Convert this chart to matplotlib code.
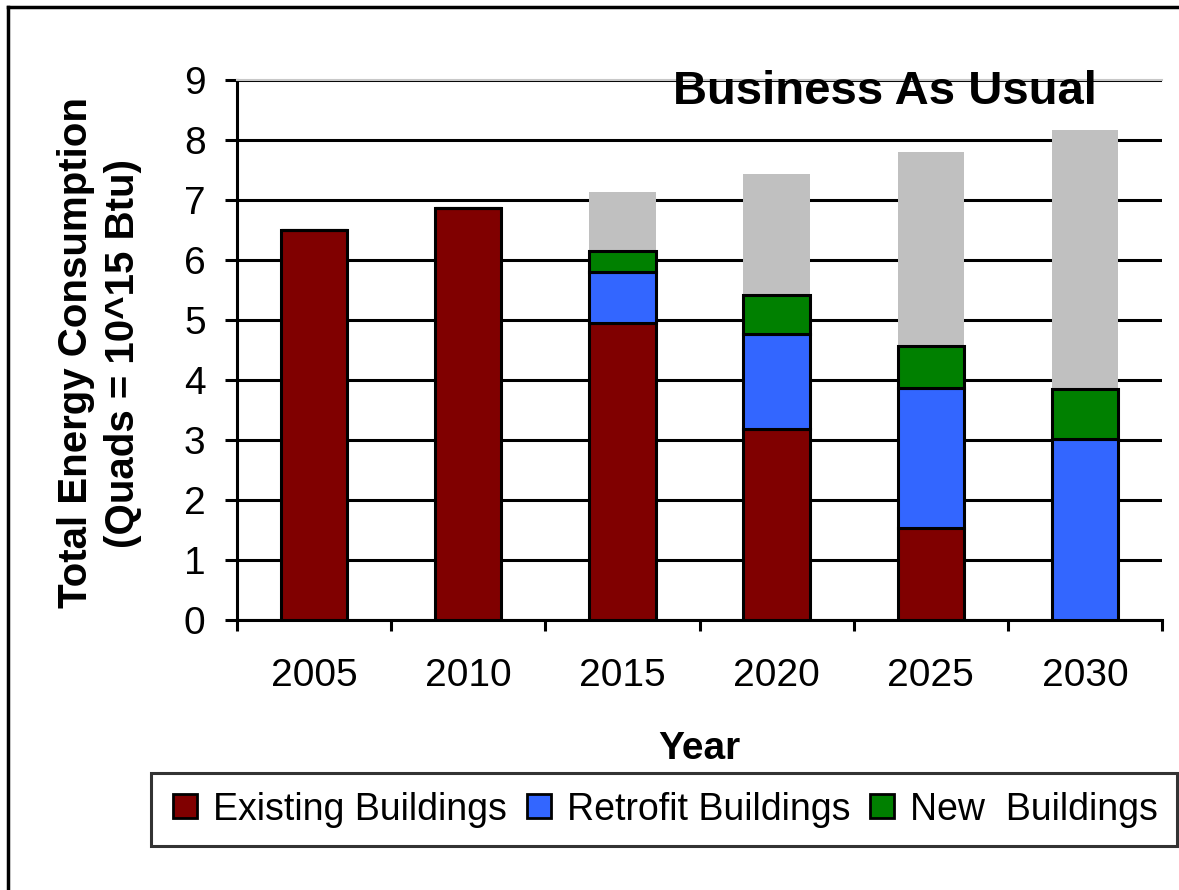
import matplotlib
matplotlib.use("Agg")
import matplotlib.pyplot as plt
from matplotlib.lines import Line2D
import numpy as np

plt.rcParams['font.family'] = ['Liberation Sans', 'DejaVu Sans']

years = ['2005', '2010', '2015', '2020', '2025', '2030']
existing = [6.50, 6.87, 4.95, 3.18, 1.53, 0.00]
retrofit = [0.00, 0.00, 0.85, 1.59, 2.34, 3.02]
new_bldg = [0.00, 0.00, 0.35, 0.65, 0.70, 0.83]
bau_total = [6.50, 6.87, 7.13, 7.43, 7.80, 8.17]

RED = '#800000'
BLUE = '#3366ff'
GREEN = '#008000'
GREY = '#c0c0c0'

fig = plt.figure(figsize=(11.79, 8.9), dpi=100)
ax = fig.add_axes([237 / 1179, 1 - 620 / 890, (1162 - 237) / 1179, 540 / 890])

x = np.arange(len(years))
w = 0.43
edge = dict(edgecolor='black', linewidth=2.2, zorder=3)

# business-as-usual total sits behind the stacked breakdown
ax.bar(x, bau_total, w, color=GREY, linewidth=0, zorder=2)
ax.bar(x, existing, w, color=RED, **edge)
b1 = np.array(existing)
ax.bar(x, retrofit, w, bottom=b1, color=BLUE, **edge)
b2 = b1 + np.array(retrofit)
ax.bar(x, new_bldg, w, bottom=b2, color=GREEN, **edge)

ax.set_xlim(-0.5, 5.5)
ax.set_ylim(0, 9)
ax.set_yticks(range(10))
ax.yaxis.grid(True, color='black', linewidth=2.2)
ax.set_axisbelow(True)

ax.spines['right'].set_visible(False)
ax.spines['top'].set_color('#c8c8c8')
ax.spines['top'].set_linewidth(1.5)
ax.spines['left'].set_linewidth(2.2)
ax.spines['bottom'].set_linewidth(2.2)

ax.set_xticks(x)
ax.set_xticklabels(years)
ax.set_xticks(np.arange(-0.5, 6, 1), minor=True)
ax.tick_params(axis='x', which='major', length=0, pad=27, labelsize=28)
ax.tick_params(axis='x', which='minor', length=8, width=2.2, direction='out')
ax.tick_params(axis='y', length=8.6, width=2.2, pad=14, labelsize=28)

fig.text(100 / 1179, 1 - 353 / 890,
         'Total Energy Consumption\n(Quads = 10^15 Btu)',
         rotation=90, ha='center', va='center', fontsize=29,
         fontweight='bold', multialignment='center', linespacing=1.3)
fig.text(699 / 1179, 1 - 749 / 890, 'Year', ha='center', va='center',
         fontsize=28, fontweight='bold')
fig.text(1097 / 1179, 1 - 92 / 890, 'Business As Usual', ha='right',
         va='center', fontsize=34, fontweight='bold')

handles = [Line2D([], [], marker='s', linestyle='none', markersize=17,
                  markerfacecolor=c, markeredgecolor='black',
                  markeredgewidth=2)
           for c in (RED, BLUE, GREEN)]
leg = fig.legend(handles, ['Existing Buildings', 'Retrofit Buildings',
                           'New  Buildings'],
                 loc='center', bbox_to_anchor=(664 / 1179, 1 - 809.5 / 890),
                 ncol=3, fontsize=27, frameon=True, fancybox=False,
                 handlelength=0.8, handletextpad=0.35, columnspacing=0.45,
                 borderpad=0.5, borderaxespad=0)
leg.get_frame().set_edgecolor('black')
leg.get_frame().set_linewidth(2.2)

# outer chart border (left and top edges)
fig.add_artist(Line2D([8 / 1179, 8 / 1179], [-0.05, 1 - 7 / 890],
                      transform=fig.transFigure, color='black', linewidth=2.5))
fig.add_artist(Line2D([8 / 1179, 1.05], [1 - 7 / 890, 1 - 7 / 890],
                      transform=fig.transFigure, color='black', linewidth=2.5))

fig.savefig('out.png', dpi=100)
